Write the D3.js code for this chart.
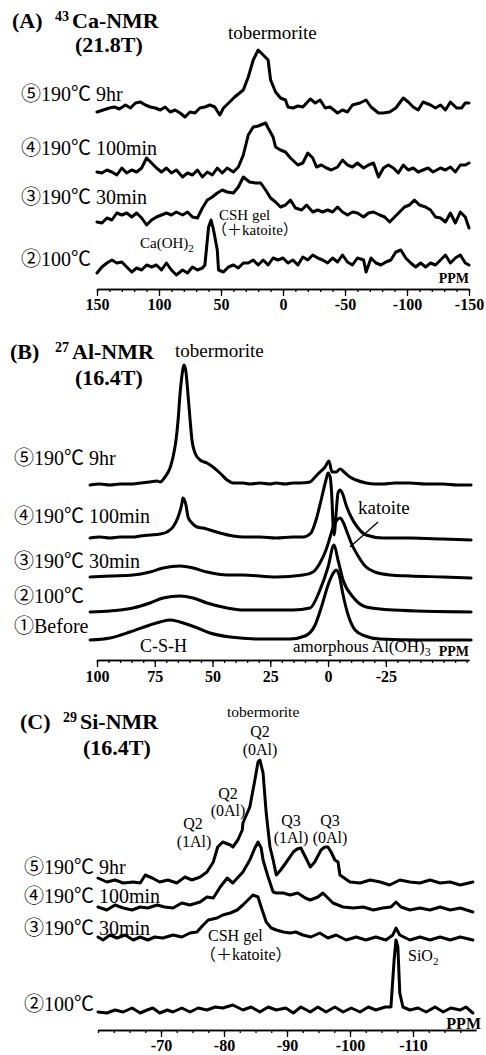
<!doctype html>
<html lang="en">
<head>
<meta charset="utf-8">
<title>43Ca / 27Al / 29Si NMR</title>
<script src="https://cdn.jsdelivr.net/npm/d3@7"></script>
<style>
  body { margin: 0; background: #fff; }
  svg { display: block; font-family: "Liberation Serif", "Noto Sans CJK JP", serif; }
  .trace { fill: none; stroke: #000; stroke-width: 3; stroke-linejoin: round; stroke-linecap: round; }
  .axis path, .axis line { stroke: #000; stroke-width: 1.3; }
  .axis text { font-family: "Liberation Serif", serif; font-weight: bold; font-size: 16px; fill: #000; }
</style>
</head>
<body>
<svg id="chart" width="486" height="1055"></svg>
<script>
// ---- (A) 43Ca spectra, [ppm, intensity] ----
var caRun5 = [[150,-2],[145,0],[140,2],[136,3],[132,1],[127,5],[123,2],[119,7],[115,8],[111,5],[107,3],[103,2],[99,0],[95,3],[91,-2],[87,0],[83,-3],[79,-7],[75,-2],[71,-3],[67,2],[63,3],[59,5],[55,3],[51,-5],[48,2],[43,8],[39,13],[35,17],[32,20],[28,33],[24,50],[20,60],[16,55],[12,50],[10,30],[6,18],[2,12],[-2,10],[-4,3],[-8,2],[-12,4],[-16,3],[-22,11],[-26,7],[-30,10],[-34,2],[-38,3],[-44,-3],[-48,0],[-52,-2],[-56,5],[-62,7],[-67,10],[-71,3],[-77,-3],[-81,-3],[-86,-2],[-91,2],[-97,12],[-101,8],[-105,3],[-109,0],[-113,8],[-119,5],[-123,2],[-127,5],[-131,0],[-135,8],[-140,2],[-144,2],[-147,7],[-150,7]];
var caRun4 = [[150,-1],[146,-2],[142,1],[138,-1],[134,-4],[130,3],[126,-2],[122,1],[118,-1],[114,3],[110,13],[106,8],[102,3],[98,-1],[94,3],[90,-2],[86,1],[81,-6],[77,-2],[73,-4],[69,1],[65,-6],[61,-1],[57,-4],[53,3],[49,-2],[45,3],[40,-1],[36,4],[32,16],[28,36],[24,44],[20,45],[14,48],[12,43],[8,34],[6,24],[2,21],[-2,19],[-6,13],[-12,6],[-16,8],[-20,18],[-24,13],[-27,4],[-31,6],[-35,3],[-39,1],[-44,4],[-48,11],[-52,6],[-56,4],[-60,8],[-65,3],[-69,6],[-73,8],[-77,-6],[-81,3],[-85,6],[-89,3],[-93,-2],[-97,6],[-101,1],[-105,3],[-109,-1],[-113,1],[-117,3],[-121,-1],[-127,3],[-131,1],[-135,4],[-139,-1],[-143,6],[-147,6],[-150,8]];
var caRun3 = [[150,-2],[146,-3],[142,2],[138,0],[134,7],[130,5],[126,7],[122,3],[118,7],[114,2],[110,-5],[106,0],[102,3],[98,5],[94,7],[90,5],[86,8],[81,5],[77,8],[73,3],[69,2],[65,12],[61,20],[57,23],[53,27],[49,30],[45,28],[40,27],[36,33],[32,43],[27,38],[22,37],[18,37],[14,30],[10,22],[6,18],[2,13],[-2,15],[-6,20],[-10,12],[-15,10],[-19,15],[-24,8],[-28,10],[-32,8],[-36,10],[-40,8],[-44,13],[-48,8],[-52,5],[-56,8],[-60,7],[-65,3],[-69,7],[-73,8],[-78,5],[-82,3],[-86,-2],[-90,3],[-94,8],[-98,13],[-102,15],[-106,20],[-110,15],[-115,13],[-119,10],[-123,3],[-127,2],[-131,-2],[-135,7],[-139,-3],[-143,8],[-147,3],[-150,-8]];
var caRun2 = [[150,-7],[146,-1],[142,3],[138,6],[134,3],[130,4],[126,-1],[122,-6],[118,-2],[114,-4],[110,1],[106,-1],[102,1],[98,-4],[94,3],[90,-4],[86,-9],[81,-4],[77,-7],[73,-1],[69,-4],[65,-2],[63,1],[60,39],[58,46],[56,36],[53,16],[52,-4],[48,-6],[44,-1],[40,1],[36,-2],[32,3],[28,3],[24,6],[20,1],[16,6],[12,1],[8,8],[4,6],[0,8],[-4,3],[-8,6],[-12,1],[-16,9],[-20,6],[-24,11],[-28,8],[-32,6],[-36,3],[-40,8],[-44,4],[-48,11],[-52,4],[-56,1],[-60,8],[-65,6],[-67,-6],[-71,8],[-75,3],[-79,1],[-83,4],[-87,6],[-91,14],[-95,16],[-99,8],[-103,3],[-107,-1],[-111,3],[-115,-1],[-119,3],[-123,1],[-127,6],[-131,11],[-135,3],[-139,8],[-143,11],[-147,3],[-150,1]];

// ---- (B) 27Al spectra ----
var alRun5 = [[103,0],[98.7,1],[94.4,0],[90,1],[85.7,1],[81.4,2],[77.1,3],[74,4],[72.7,3],[70.6,8],[68.4,17],[67.1,28],[65.8,45],[64.9,65],[64.1,90],[63.2,110],[62.3,120],[61.5,113],[60.6,90],[59.7,65],[58.9,45],[57.6,32],[55.4,25],[52.4,22],[49.8,18],[46.8,12],[43.7,5],[41.1,2],[36.8,2],[33.8,1],[29.4,2],[25.1,1],[22.5,2],[18.6,1],[15.2,2],[12.1,2],[7.8,3],[5.6,8],[3.5,13],[1.3,18],[-0.4,24],[-1.7,13],[-3.5,13],[-5.2,16],[-7.4,12],[-9.5,8],[-12.1,5],[-16.5,2],[-20.3,1],[-23.8,1],[-29,2],[-35.5,2],[-42,1],[-49.8,1],[-55.8,0],[-61.9,0]];
var alRun4 = [[103,0],[98.7,1],[94.4,0],[90,1],[84.4,1],[81.4,2],[77.1,3],[72.7,4],[69.7,6],[67.1,11],[64.9,21],[63.2,35],[62.8,40],[61.5,33],[60.6,21],[58.9,15],[56.7,11],[54.1,10],[51.1,8],[46.8,5],[41.1,2],[36.8,1],[29.4,1],[22.5,0],[15.2,1],[10.8,1],[7.4,5],[5.2,18],[3.0,38],[0.9,58],[0,65],[-0.9,61],[-1.7,38],[-2.2,11],[-2.6,3],[-3.5,25],[-4.3,45],[-5.2,48],[-6.5,43],[-7.8,33],[-10,21],[-13,10],[-16.5,3],[-23.8,0],[-35.5,0],[-49.8,-1],[-61.9,-2]];
var alRun3 = [[103,0],[94.4,1],[84.4,2],[77.1,5],[71.4,9],[64.1,11],[58.4,9],[52.4,5],[43.7,2],[36.8,2],[22.5,0],[10.8,2],[6.5,5],[3.5,14],[0.9,27],[-0.9,40],[-2.2,50],[-3.9,57],[-5.2,59],[-6.5,55],[-8.2,45],[-10.4,32],[-13,21],[-16,11],[-20.3,5],[-26.8,2],[-35.5,1],[-49.8,0],[-61.9,-1]];
var alRun2 = [[103,0],[94.4,1],[84.4,4],[77.1,9],[71.4,14],[64.1,16],[58.4,14],[52.4,9],[43.7,4],[36.8,2],[15.2,2],[7.8,4],[3.5,22],[0,45],[-2.6,67],[-4.3,52],[-6.5,32],[-10.8,15],[-16.5,5],[-28.1,2],[-61.9,0]];
var alRun1 = [[103,0],[94.4,2],[85.7,8],[77.1,15],[72.7,18],[68.4,20],[64.1,18],[57.6,13],[51.1,7],[42.4,3],[29.4,1],[16.5,1],[10,4],[5.6,15],[2.6,35],[0,55],[-2.6,68],[-3.5,70],[-4.8,65],[-6.5,45],[-8.7,25],[-11.7,10],[-16,4],[-22.5,1],[-39.8,0],[-61.9,0]];

// ---- (C) 29Si spectra ----
var siRun5 = [[-60,2],[-61.4,-2],[-62.7,0],[-64,-3],[-65.6,-2],[-66.7,-3],[-67.5,5],[-68.6,2],[-69.8,-2],[-71.1,0],[-72.5,-3],[-73.8,3],[-74.9,0],[-76.2,3],[-77.3,8],[-78.3,18],[-79,33],[-79.8,38],[-81,35],[-81.4,33],[-82.2,40],[-82.9,50],[-83,57],[-84.1,73],[-84.9,100],[-85.4,118],[-85.7,120],[-86.2,107],[-86.7,67],[-87.3,33],[-87.8,20],[-88.3,5],[-89,10],[-89.8,17],[-91,28],[-91.6,31],[-92.2,32],[-93,22],[-93.7,13],[-94.4,18],[-95.4,30],[-96,33],[-96.5,33],[-97,28],[-97.6,20],[-98.1,18],[-98.4,5],[-100,-2],[-101.6,-3],[-103.2,0],[-104.8,-2],[-106.3,-5],[-107.9,0],[-109.5,-2],[-111.1,-3],[-112.7,0],[-114.3,-3],[-115.9,-2],[-117.5,-5],[-119.5,-2]];
var siRun4 = [[-60,1],[-61.4,-2],[-62.7,3],[-64,0],[-65.4,-2],[-66.7,1],[-67.9,0],[-69.4,3],[-70.6,1],[-71.9,0],[-73.3,5],[-74.6,3],[-76.2,6],[-77.3,11],[-78.3,10],[-79.4,21],[-80.5,30],[-81.4,25],[-83,36],[-84.1,48],[-84.9,60],[-85.4,66],[-85.9,60],[-86.2,48],[-87,31],[-87.8,16],[-88.3,15],[-89.4,15],[-90.5,13],[-91.7,15],[-92.9,10],[-93.7,8],[-94.9,11],[-95.7,15],[-96.5,10],[-97.3,5],[-98.9,1],[-100.5,0],[-102.1,1],[-103.7,-2],[-105.2,0],[-106.5,1],[-107.3,6],[-108.1,1],[-109.5,-2],[-111.1,0],[-112.7,-2],[-114.3,1],[-115.9,-2],[-117.5,0],[-119.5,-4]];
var siRun3 = [[-60,0],[-60.8,-3],[-61.9,2],[-63,-1],[-64.3,2],[-65.6,-3],[-66.7,0],[-67.9,-3],[-69,0],[-70.3,-1],[-71.9,2],[-73.3,0],[-74.6,4],[-75.7,5],[-76.7,12],[-77.5,17],[-78.9,19],[-79.8,22],[-81,24],[-82.1,27],[-83,32],[-83.8,37],[-84.6,42],[-85.4,40],[-85.9,30],[-86.7,15],[-87.5,9],[-88.3,7],[-89.4,5],[-90.5,4],[-91.4,5],[-92.5,2],[-93.8,0],[-95.2,4],[-96.5,-1],[-97.8,2],[-99.4,-3],[-101,0],[-102.5,-3],[-104.1,0],[-105.7,-3],[-106.8,2],[-107.3,9],[-107.9,2],[-109.5,-3],[-111.1,0],[-112.7,-3],[-114.3,0],[-115.9,-3],[-117.5,0],[-119.5,-3]];
var siRun2 = [[-60,-2],[-61.4,-3],[-62.7,0],[-64,-2],[-65.4,2],[-66.7,-3],[-67.8,0],[-68.7,2],[-69.8,-3],[-71,0],[-71.9,-2],[-73.3,2],[-74.6,-2],[-75.9,2],[-77.3,0],[-78.6,3],[-79.8,2],[-81.4,5],[-83,0],[-84.3,3],[-85.7,-2],[-87,3],[-88.3,0],[-89.8,2],[-91,-3],[-92.2,3],[-93.7,-2],[-94.9,3],[-96.2,-2],[-97.6,3],[-98.9,-2],[-100.2,2],[-101.6,-2],[-102.9,3],[-104.1,0],[-105.6,3],[-106.5,3],[-107,50],[-107.3,70],[-107.6,63],[-107.9,17],[-108.4,3],[-109.5,0],[-110.8,2],[-112.1,-2],[-113.5,3],[-114.8,-2],[-116,2],[-117.5,0],[-118.4,3],[-119.5,-3]];

// stacking offsets (baseline heights above the axis, same units as intensity)
var caOffsets = [179, 118, 69, 23];
var alOffsets = [175, 122, 83, 48, 20];
var siOffsets = [150, 122, 93, 20];

var caLabels = ["⑤190℃ 9hr", "④190℃ 100min", "③190℃ 30min", "②100℃"];
var alLabels = ["⑤190℃ 9hr", "④190℃ 100min", "③190℃ 30min", "②100℃", "①Before"];
var siLabels = ["⑤190℃ 9hr", "④190℃ 100min", "③190℃ 30min", "②100℃"];

var caTicks = [150, 100, 50, 0, -50, -100, -150];
var alTicks = [100, 75, 50, 25, 0, -25];
var siTicks = [-70, -80, -90, -100, -110];

var svg = d3.select("#chart");

function txt(x, y, s, size, bold, anchor) {
  return svg.append("text")
    .attr("x", x).attr("y", y)
    .attr("font-size", size)
    .attr("font-weight", bold ? "bold" : "normal")
    .attr("text-anchor", anchor || "start")
    .text(s);
}

function panel(cfg) {
  var x = d3.scaleLinear().domain(cfg.domain).range(cfg.xr);
  var y = d3.scaleLinear().domain([0, 100]).range([cfg.axisY, cfg.axisY - 100]);

  cfg.runs.forEach(function (run, i) {
    var off = cfg.offsets[i];
    var line = d3.line()
      .x(function (d) { return x(d[0]); })
      .y(function (d) { return y(d[1] + off); })
      .curve(cfg.curve || d3.curveLinear);
    svg.append("path").attr("class", "trace").attr("d", line(run));
  });

  // minor ticks
  var minor = d3.axisBottom(x).tickValues(cfg.minor).tickSize(3).tickSizeOuter(0).tickFormat("");
  svg.append("g").attr("class", "axis").attr("transform", "translate(0," + cfg.axisY + ")").call(minor);
  var major = d3.axisBottom(x).tickValues(cfg.ticks).tickSize(7).tickSizeOuter(0)
    .tickFormat(function (d) { return String(d); });
  var g = svg.append("g").attr("class", "axis").attr("transform", "translate(0," + cfg.axisY + ")").call(major);
  g.attr("font-family", null).attr("font-size", null);
  g.selectAll("text").attr("y", cfg.labelDy).attr("dy", 0);
}

panel({
  domain: [150, -150], xr: [97, 469], axisY: 289, labelDy: 21,
  runs: [caRun5, caRun4, caRun3, caRun2], offsets: caOffsets,
  ticks: caTicks, minor: d3.range(150, -151, -10)
});
panel({
  domain: [100, -61], xr: [97, 469], axisY: 660, labelDy: 22,
  runs: [alRun5, alRun4, alRun3, alRun2, alRun1], offsets: alOffsets,
  ticks: alTicks, minor: d3.range(100, -61, -5), curve: d3.curveMonotoneX
});
panel({
  domain: [-60, -120], xr: [98, 476], axisY: 1030, labelDy: 21,
  runs: [siRun5, siRun4, siRun3, siRun2], offsets: siOffsets,
  ticks: siTicks, minor: d3.range(-60, -119.9, -2.5)
});

// ---- titles ----
txt(12, 28, "(A)", 22, true);
txt(55, 21, "43", 14, true);
txt(72, 28, "Ca-NMR", 22, true);
txt(75, 52, "(21.8T)", 22, true);

txt(10, 359, "(B)", 22, true);
txt(55, 352, "27", 14, true);
txt(72, 359, "Al-NMR", 22, true);
txt(75, 385, "(16.4T)", 22, true);

txt(20, 729, "(C)", 22, true);
txt(63, 722, "29", 14, true);
txt(80, 729, "Si-NMR", 22, true);
txt(83, 755, "(16.4T)", 22, true);

// ---- trace labels ----
[101, 155, 204, 266].forEach(function (yy, i) { txt(21, yy, caLabels[i], 20); });
[465, 523, 568, 603, 633].forEach(function (yy, i) { txt(14, yy, alLabels[i], 20); });
[874, 903, 935, 1011].forEach(function (yy, i) { txt(24, yy, siLabels[i], 20); });

// ---- annotations (A) ----
txt(228, 39, "tobermorite", 19);
txt(219, 220, "CSH gel", 15);
txt(212, 235, "（＋katoite）", 15);
var ca = txt(140, 248, "Ca(OH)", 15);
ca.append("tspan").attr("font-size", 11).attr("dy", 4).text("2");
txt(469, 283, "PPM", 14, true, "end");

// ---- annotations (B) ----
txt(175, 357, "tobermorite", 19);
txt(358, 514, "katoite", 19);
svg.append("line").attr("x1", 378).attr("y1", 522).attr("x2", 350).attr("y2", 547)
  .attr("stroke", "#000").attr("stroke-width", 1.3);
txt(140, 652, "C-S-H", 18);
var am = txt(293, 652, "amorphous Al(OH)", 17);
am.append("tspan").attr("font-size", 12).attr("dy", 4).text("3");
txt(469, 656, "PPM", 14, true, "end");

// ---- annotations (C) ----
txt(227, 717, "tobermorite", 15.5);
txt(260, 737, "Q2", 16, false, "middle");
txt(260, 755, "(0Al)", 16, false, "middle");
txt(228, 799, "Q2", 16, false, "middle");
txt(228, 816, "(0Al)", 16, false, "middle");
txt(193, 829, "Q2", 16, false, "middle");
txt(194, 847, "(1Al)", 16, false, "middle");
txt(291, 826, "Q3", 16, false, "middle");
txt(291, 843, "(1Al)", 16, false, "middle");
txt(330, 826, "Q3", 16, false, "middle");
txt(330, 843, "(0Al)", 16, false, "middle");
txt(208, 941, "CSH gel", 16);
txt(200, 960, "（＋katoite）", 16);
var si = txt(408, 961, "SiO", 16);
si.append("tspan").attr("font-size", 11).attr("dy", 4).text("2");
txt(481, 1029, "PPM", 16, true, "end");
</script>
</body>
</html>
